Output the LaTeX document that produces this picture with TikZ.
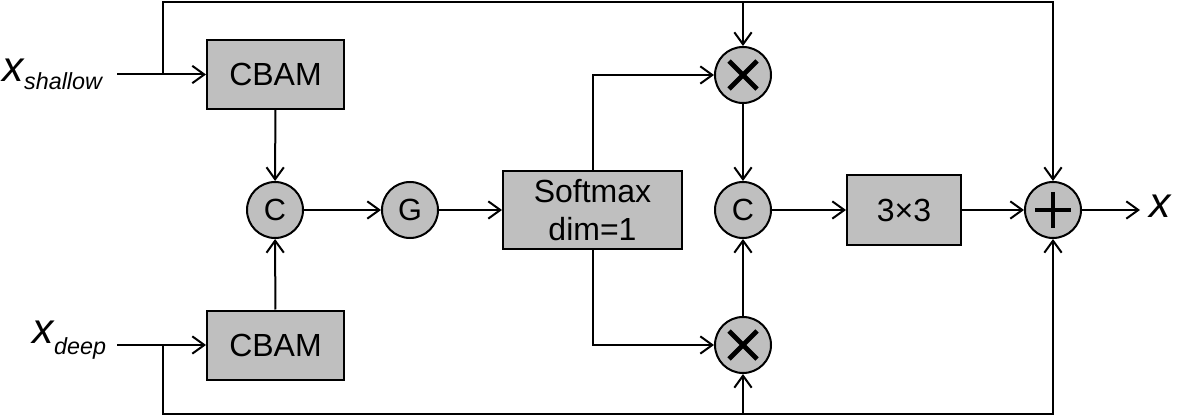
\documentclass[tikz,border=0pt]{standalone}
\usepackage{fontspec}
\setmainfont{Liberation Sans}
\usetikzlibrary{arrows.meta}
\begin{document}
\begin{tikzpicture}[x=0.75pt,y=-0.75pt,
  line width=1.5pt,
  arr/.style={-{Straight Barb[length=9pt,width=13pt,line width=1.5pt]}},
  blk/.style={draw,fill=black!25,inner sep=0pt,font=\fontsize{24}{28}\selectfont,align=center},
  circ/.style={draw,fill=black!25,circle,inner sep=0pt,minimum size=42pt,font=\fontsize{23}{23}\selectfont},
  sym/.style={line width=3.5pt,line cap=butt}
]
\useasboundingbox (0,0) rectangle (1181,420);
% blocks
\node[blk,minimum width=102.75pt,minimum height=51.75pt] (cbam1) at (275.5,74.5) {CBAM};
\node[blk,minimum width=102.75pt,minimum height=51.75pt] (cbam2) at (275.5,345) {CBAM};
\node[blk,minimum width=134.25pt,minimum height=58.5pt] (soft) at (592.5,210) {Softmax\\[0.5pt]dim=1};
\node[blk,minimum width=85.5pt,minimum height=52.5pt] (conv) at (904,210) {3×3};
\node[circ] (c1) at (275,210) {C};
\node[circ] (g) at (410,210) {G};
\node[circ] (c2) at (743,210) {C};
\node[circ] (m1) at (743,75) {};
\node[circ] (m2) at (743,345) {};
\node[circ] (plus) at (1053,210) {};
\draw[sym] (m1.center) ++(-14,-14) -- ++(28,28) ++(0,-28) -- ++(-28,28);
\draw[sym] (m2.center) ++(-14,-14) -- ++(28,28) ++(0,-28) -- ++(-28,28);
\draw[sym] (plus.center) ++(-18,0) -- ++(36,0) ++(-18,-18) -- ++(0,36);
% labels
\node[anchor=base east,inner sep=0pt] (lsh) at (103,82) {\fontsize{32}{32}\selectfont\itshape x\raisebox{-6pt}{\fontsize{17.5}{17.5}\selectfont shallow}};
\node[anchor=base east,inner sep=0pt] (ldp) at (107,343) {\fontsize{32}{32}\selectfont\itshape x\raisebox{-9pt}{\fontsize{17.5}{17.5}\selectfont deep}};
\node[anchor=base west,inner sep=0pt] (lout) at (1148,218) {\fontsize{32}{32}\selectfont\itshape x};
% coordinates
\coordinate (in1) at (117,74.5);
\coordinate (in2) at (117,345);
\coordinate (out) at (1140,210);
\coordinate (b1) at (163,74.5);
\coordinate (b2) at (163,345);
\coordinate (tl) at (163,2);
\coordinate (tr) at (1053,2);
\coordinate (tm) at (743,2);
\coordinate (bl) at (163,414);
\coordinate (br) at (1053,414);
\coordinate (bm) at (743,414);
% connectors
\draw[arr] (in1) -- (cbam1);
\draw[arr] (in2) -- (cbam2);
\draw[arr] (b1) -- (tl) -- (tr) -- (plus);
\draw[arr] (tm) -- (m1);
\draw[arr] (b2) -- (bl) -- (br) -- (plus);
\draw[arr] (bm) -- (m2);
\draw[arr] (cbam1) -- (c1);
\draw[arr] (cbam2) -- (c1);
\draw[arr] (c1) -- (g);
\draw[arr] (g) -- (soft);
\draw[arr] (soft.north) |- (m1);
\draw[arr] (soft.south) |- (m2);
\draw[arr] (m1) -- (c2);
\draw[arr] (m2) -- (c2);
\draw[arr] (c2) -- (conv);
\draw[arr] (conv) -- (plus);
\draw[arr] (plus) -- (out);
\end{tikzpicture}
\end{document}
